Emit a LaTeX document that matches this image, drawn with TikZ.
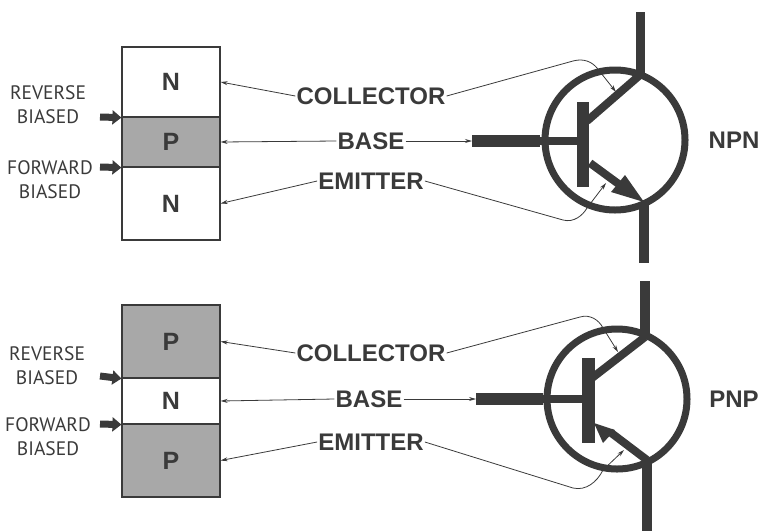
\documentclass[tikz,border=0pt]{standalone}
\usepackage{fontspec}
\setmainfont{Liberation Sans}
\newfontfamily\narrowfont{PT Sans}
\usetikzlibrary{arrows.meta}
\definecolor{ink}{HTML}{3A3A3A}
\definecolor{shade}{HTML}{A8A8A8}
\tikzset{
	layer/.style={rectangle,draw=ink,line width=1.2pt,minimum width=98pt,inner sep=0pt,font=\fontsize{25}{25}\selectfont\bfseries,text=ink},
	biglabel/.style={font=\fontsize{24}{24}\selectfont\bfseries,text=ink,inner sep=1pt},
	sidelabel/.style={font=\fontsize{19.5}{24}\selectfont\narrowfont,text=ink,align=center,inner sep=0pt},
	leader/.style={draw=ink,line width=0.8pt,-{Stealth[length=7pt,width=4pt]}},
	biasarrow/.style={draw=ink,line width=7pt,-{Stealth[length=9pt,width=14pt,inset=0pt]}},
	wire/.style={draw=ink,line width=8pt},
	fatwire/.style={draw=ink,line width=12pt}
}
\begin{document}
\begin{tikzpicture}[x=1pt,y=-1pt]
	\useasboundingbox (0,0) rectangle (762,531);
	% npn layers
	\node[layer,minimum height=70pt] (n1) at (171,82) {N};
	\node[layer,minimum height=50pt,fill=shade] (p1) at (171,142) {P};
	\node[layer,minimum height=73pt] (n2) at (171,203.5) {N};
	% pnp layers
	\node[layer,minimum height=73pt,fill=shade] (p2) at (171,341.5) {P};
	\node[layer,minimum height=46pt] (n3) at (171,401) {N};
	\node[layer,minimum height=73pt,fill=shade] (p3) at (171,460.5) {P};
	% bias labels
	\node[sidelabel] (rev1) at (48,105) {REVERSE\\BIASED};
	\node[sidelabel] (for1) at (50,180) {FORWARD\\BIASED};
	\node[sidelabel] (rev2) at (47,366) {REVERSE\\BIASED};
	\node[sidelabel] (for2) at (48,437) {FORWARD\\BIASED};
	\coordinate (a1) at (100,117);
	\coordinate (a2) at (100,167);
	\coordinate (a3) at (100,376);
	\coordinate (a4) at (100,424);
	\draw[biasarrow] (a1) -- (n1.south west);
	\draw[biasarrow] (a2) -- (p1.south west);
	\draw[biasarrow] (a3) -- (p2.south west);
	\draw[biasarrow] (a4) -- (n3.south west);
	% middle labels
	\node[biglabel] (coll1) at (371,96) {COLLECTOR};
	\node[biglabel] (base1) at (371,141) {BASE};
	\node[biglabel] (emit1) at (371,181) {EMITTER};
	\node[biglabel] (coll2) at (371,353) {COLLECTOR};
	\node[biglabel] (base2) at (369,399) {BASE};
	\node[biglabel] (emit2) at (371,442) {EMITTER};
	\node[biglabel] (npn) at (734,140) {NPN};
	\node[biglabel] (pnp) at (734,399) {PNP};
	% npn symbol
	\node[circle,draw=ink,line width=7pt,minimum size=140pt,inner sep=0pt] (ring1) at (615,140) {};
	\coordinate (c1t) at (640,12);
	\coordinate (c1) at (640,75);
	\coordinate (c1b) at (587,121);
	\coordinate (e1) at (644,202);
	\coordinate (e1b) at (644,263);
	\coordinate (e1s) at (590,163);
	\coordinate (b1) at (472,141);
	\coordinate (b1m) at (540,141);
	\coordinate (b1e) at (580,141);
	\coordinate (bar1t) at (583,102);
	\coordinate (bar1b) at (583,187);
	\draw[line width=9pt,draw=ink] (c1t) -- (c1);
	\draw[wire] (c1) -- (c1b);
	\draw[line width=10pt,draw=ink] (e1) -- (e1b);
	\draw[wire] (e1s) -- (620,185);
	\fill[ink] (e1) -- (625,175) -- (611,192) -- cycle;
	\draw[fatwire] (b1) -- (b1m);
	\draw[wire] (b1m) -- (b1e);
	\draw[fatwire] (bar1t) -- (bar1b);
	% pnp symbol
	\node[circle,draw=ink,line width=7pt,minimum size=140pt,inner sep=0pt] (ring2) at (617,399) {};
	\coordinate (c2t) at (645,281);
	\coordinate (c2) at (645,337);
	\coordinate (c2b) at (592,378);
	\coordinate (e2) at (647,460);
	\coordinate (e2b) at (647,531);
	\coordinate (e2s) at (594,423);
	\coordinate (b2) at (476,399);
	\coordinate (b2m) at (543,399);
	\coordinate (b2e) at (583,399);
	\coordinate (bar2t) at (588,358);
	\coordinate (bar2b) at (588,443);
	\draw[line width=10pt,draw=ink] (c2t) -- (c2);
	\draw[wire] (c2) -- (c2b);
	\draw[line width=10pt,draw=ink] (e2) -- (e2b);
	\draw[wire] (e2) -- (610,432);
	\fill[ink] (e2s) -- (615,430) -- (603,443) -- cycle;
	\draw[fatwire] (b2) -- (b2m);
	\draw[wire] (b2m) -- (b2e);
	\draw[line width=13pt,draw=ink] (bar2t) -- (bar2b);
	% leaders to the layers
	\draw[leader] (coll1.west) -- (n1.east);
	\draw[leader] (base1.west) -- (p1.east);
	\draw[leader] (emit1.west) -- (n2.east);
	\draw[leader] (coll2.west) -- (p2.east);
	\draw[leader] (base2.west) -- (n3.east);
	\draw[leader] (emit2.west) -- (p3.east);
	% leaders to the symbols
	\coordinate (l1) at (616,92);
	\coordinate (l2) at (606,183);
	\coordinate (l3) at (618,352);
	\coordinate (l4) at (624,450);
	\draw[leader] (coll1.east) -- (573,61) .. controls (584,58) and (592,62) .. (597,68) -- (l1);
	\draw[leader] (base1.east) -- (b1);
	\draw[leader] (emit1.east) -- (563,220) .. controls (574,223) and (583,215) .. (587,208) -- (l2);
	\draw[leader] (coll2.east) -- (580,317) .. controls (590,314) and (599,320) .. (603,328) -- (l3);
	\draw[leader] (base2.east) -- (b2);
	\draw[leader] (emit2.east) -- (573,488) .. controls (586,491) and (597,482) .. (603,470) -- (l4);
\end{tikzpicture}
\end{document}
